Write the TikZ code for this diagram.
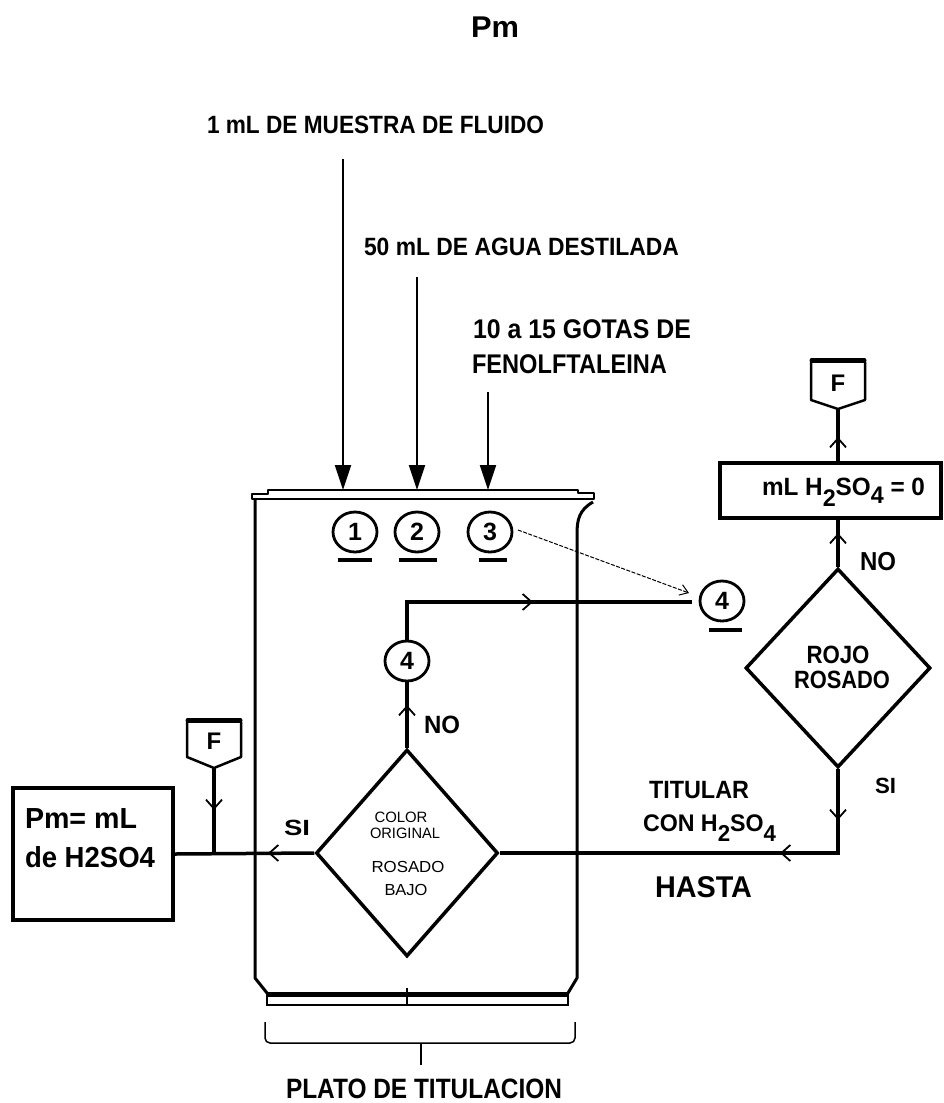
\documentclass[tikz,border=0pt]{standalone}
\usepackage{fontspec}
\setmainfont{Liberation Sans}
\usepackage{graphicx}
\usetikzlibrary{arrows.meta,shapes.geometric}
\newcommand\fw[3]{\resizebox{#1pt}{\height}{\fontsize{#2}{#2}\selectfont #3}}
\newcommand\lowr[3]{\raisebox{-#1pt}{\fontsize{#2}{#2}\selectfont #3}}
\begin{document}
\begin{tikzpicture}[x=1pt,y=-1pt,
 lbl/.style={anchor=base west, inner sep=0pt, outer sep=0pt},
 lblc/.style={anchor=base, inner sep=0pt, outer sep=0pt},
 num/.style={ellipse, draw, line width=2.8pt, minimum width=44pt, minimum height=40pt, inner sep=0pt, font=\fontsize{25}{25}\selectfont\bfseries},
 flow/.style={line width=3.5pt},
 chev/.style={line width=1.8pt, -{Straight Barb[length=9pt,width=16pt]}},
 feed/.style={line width=2pt, -{Triangle[length=25pt,width=16pt]}},
 dia/.style={diamond, draw, line width=3.5pt, inner sep=0pt},
 boxx/.style={draw, line width=4pt, inner sep=0pt},
 dsh/.style={line width=1pt, dash pattern=on 4pt off 1.5pt, -{Straight Barb[length=8pt,width=11pt]}},
 uline/.style={line width=4pt},
 wall/.style={line width=3pt, line join=round},
 flet/.style={inner sep=0pt, font=\fontsize{24}{24}\selectfont\bfseries}
]
\useasboundingbox (0,0) rectangle (943,1103);

% ---------- texts ----------
\node[lbl] (title) at (471,37) {\fw{48}{30}{\bfseries Pm}};
\node[lbl] (t1) at (207,133) {\fw{337}{25}{\bfseries 1 mL DE MUESTRA DE FLUIDO}};
\node[lbl] (t2) at (364,255) {\fw{315}{25}{\bfseries 50 mL DE AGUA DESTILADA}};
\node[lbl] (t3a) at (473,338) {\fw{218}{27}{\bfseries 10 a 15 GOTAS DE}};
\node[lbl] (t3b) at (472,373) {\fw{195}{27}{\bfseries FENOLFTALEINA}};

% ---------- feed arrows ----------
\coordinate (s1) at (343,159); \coordinate (r1) at (343,490);
\coordinate (s2) at (417,277); \coordinate (r2) at (417,490);
\coordinate (s3) at (488,392); \coordinate (r3) at (488,490);
\draw[feed] (s1) -- (r1);
\draw[feed] (s2) -- (r2);
\draw[feed] (s3) -- (r3);

% ---------- beaker ----------
\draw[line width=2.5pt, line join=round] (252,494) -- (268,494) -- (268,490) -- (578,490) -- (578,493) -- (594,493) -- (594,499) -- (252,499) -- cycle;
\draw[wall] (255,500) -- (255,978) -- (267,993);
\draw[wall] (593,502) .. controls (579,510) and (577,520) .. (577,534) -- (577,978) -- (568,993);
\draw[line width=2pt] (267,993) rectangle (568,1005);
\draw[line width=5pt] (267,994) -- (568,994);
\draw[line width=2pt] (407,988) -- (407,1005);

% brace
\draw[line width=1.5pt, rounded corners=5pt] (265,1022) |- (421,1043) -| (575,1022);
\coordinate (bc) at (421,1043); \coordinate (bt) at (421,1065);
\draw[line width=1.5pt] (bc) -- (bt);
\node[lbl] (plato) at (286,1098) {\fw{276}{28}{\bfseries PLATO DE TITULACION}};

% ---------- numbered circles ----------
\node[num] (c1) at (355,532) {1};
\node[num] (c2) at (417,532) {2};
\node[num] (c3) at (490,532) {3};
\node[num] (c4r) at (722,601) {4};
\node[num] (c4l) at (407,661) {4};
\draw[uline] (338,560) -- (372,560);
\draw[uline] (399,560) -- (437,560);
\draw[uline] (479,560) -- (507,560);
\draw[uline] (709,630) -- (742,630);

\coordinate (d3) at (518,530); \coordinate (d4) at (689,593);
\draw[dsh] (d3) -- (d4);

% ---------- COLOR ORIGINAL diamond ----------
\node[dia, minimum width=182pt, minimum height=207pt] (col) at (407,853) {};
\node[lblc] (colt1) at (401,822) {\fw{53}{15}{COLOR}};
\node[lblc] (colt2) at (405,838) {\fw{70}{15}{ORIGINAL}};
\node[lblc] (colt3) at (408,872) {\fw{73}{16}{ROSADO}};
\node[lblc] (colt4) at (406,895) {\fw{43}{16}{BAJO}};

% loop to 4
\coordinate (lc) at (407,602); \coordinate (le) at (692,602);
\draw[flow] (c4l.north) -- (lc) -- (le);
\draw[chev] (524,602) -- (533,602);
\draw[flow] (col.north) -- (c4l.south);
\draw[chev] (407,714) -- (407,705);
\node[lbl] (no1) at (424,733) {\fw{36}{25}{\bfseries NO}};

% ---------- result box left ----------
\node[boxx, minimum width=160pt, minimum height=132pt] (pm) at (93,854) {};
\node[lbl] (pmt1) at (25,828) {\fw{112}{29}{\bfseries Pm= mL}};
\node[lbl] (pmt2) at (25,867) {\fw{130}{29}{\bfseries de H2SO4}};
\draw[flow] (col.west) -- (pm.east);
\draw[chev] (277,853) -- (268,853);
\node[lbl] (si1) at (284,835) {\fw{26}{22}{\bfseries SI}};

% F left
\draw[line width=2.5pt, line join=round] (187,722) -- (187,757) -- (214,768) -- (241,757) -- (241,722);
\draw[line width=5pt, line cap=round] (188,720) -- (240,720);
\node[flet] (fL) at (214,741) {F};
\coordinate (fLtip) at (214,768); \coordinate (jL) at (214,853);
\draw[flow] (fLtip) -- (jL);
\draw[chev] (214,801) -- (214,810);

% ---------- ROJO ROSADO diamond ----------
\node[dia, minimum width=185pt, minimum height=199pt] (rojo) at (838,668) {};
\node[lblc] (rt1) at (838,663) {\fw{63}{25}{\bfseries ROJO}};
\node[lblc] (rt2) at (842,688) {\fw{96}{25}{\bfseries ROSADO}};

\coordinate (jR) at (838,853);
\draw[flow, line join=miter] (col.east) -- (jR) -- (rojo.south);
\draw[chev] (789,853) -- (780,853);
\draw[chev] (838,811) -- (838,820);
\node[lbl] (si2) at (875,793) {\fw{21}{22}{\bfseries SI}};
\node[lbl] (tit1) at (649,798) {\fw{100}{25}{\bfseries TITULAR}};
\node[lbl] (tit2) at (643,831) {\fw{133}{24}{\bfseries CON H\lowr{10}{23}{2}SO\lowr{10}{23}{4}}};
\node[lbl] (hasta) at (655,897) {\fw{97}{30}{\bfseries HASTA}};

% ---------- mL H2SO4 = 0 box ----------
\node[boxx, minimum width=221pt, minimum height=55pt] (ml) at (830.5,490.5) {};
\node[lbl] (mlt) at (762,495) {\fw{163}{25}{\bfseries mL H\lowr{11}{24}{2}SO\lowr{8}{24}{4} = 0}};
\draw[flow] (rojo.north) -- (rojo.north |- ml.south);
\draw[chev] (838,542) -- (838,533);
\node[lbl] (no2) at (860,570) {\fw{36}{26}{\bfseries NO}};

% F right
\draw[line width=2.5pt, line join=round] (811,362) -- (811,400) -- (838,409) -- (865,400) -- (865,362);
\draw[line width=5pt, line cap=round] (812,360) -- (864,360);
\node[flet] (fR) at (838,383) {F};
\coordinate (fRtip) at (838,409);
\draw[flow] (ml.north -| fRtip) -- (fRtip);
\draw[chev] (838,446) -- (838,437);
\end{tikzpicture}
\end{document}
